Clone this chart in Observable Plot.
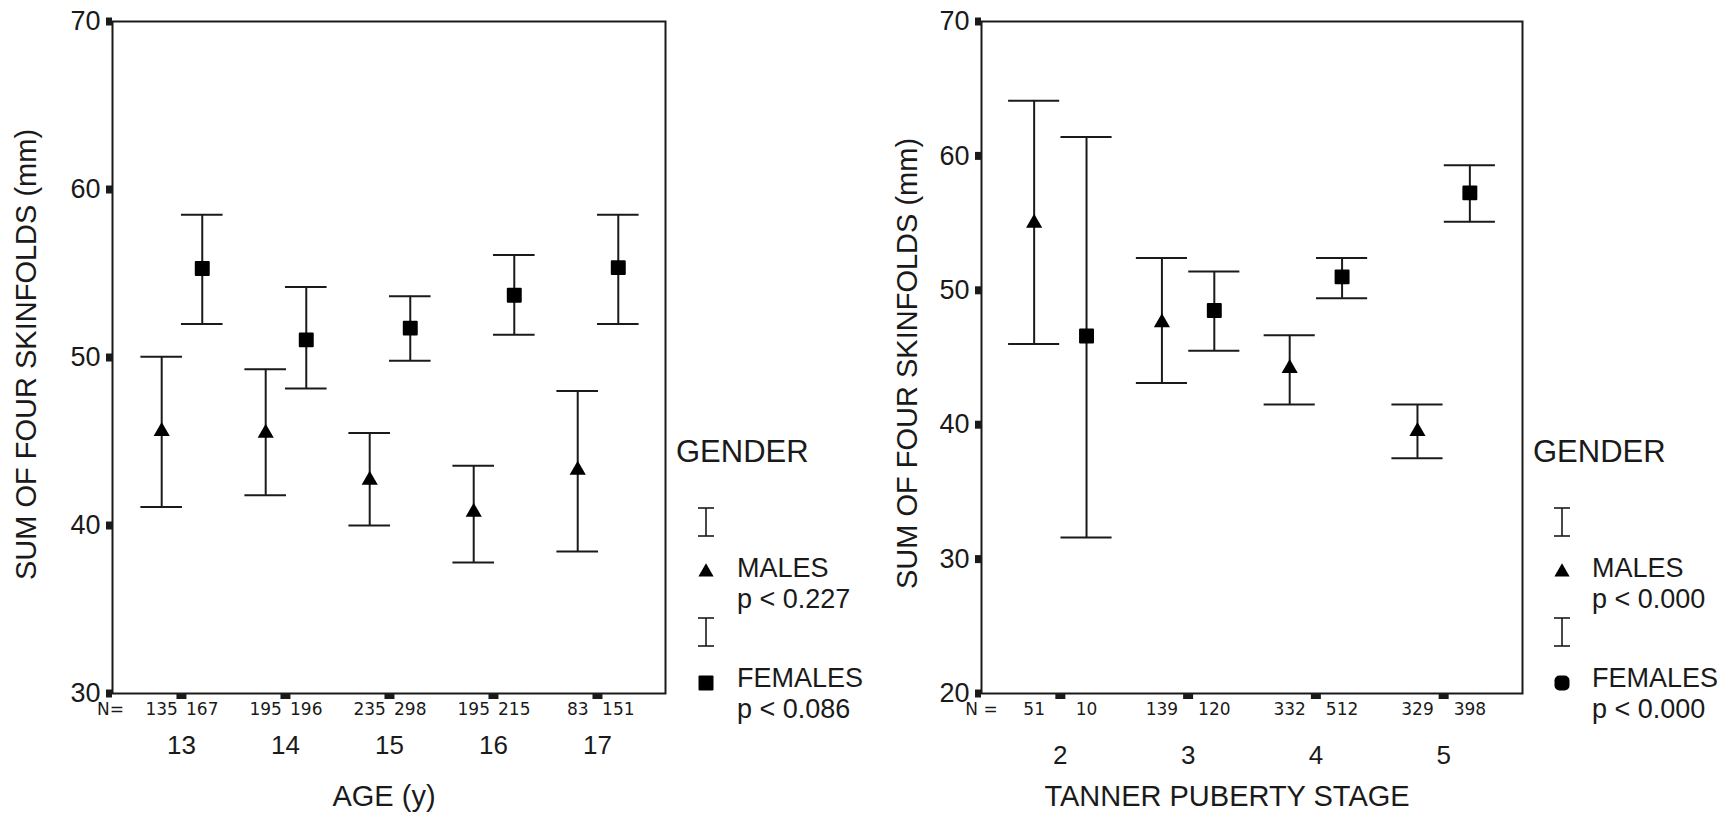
<!DOCTYPE html>
<html><head><meta charset="utf-8">
<script src="https://cdn.jsdelivr.net/npm/d3@7"></script>
<script src="https://cdn.jsdelivr.net/npm/@observablehq/plot@0.6"></script>
<style>
html,body{margin:0;padding:0;background:#fff;}
#root{position:relative;width:1732px;height:821px;overflow:hidden;font-family:"Liberation Sans",Arial,sans-serif;}
</style></head><body><div id="root"></div>
<script>
// ---------- Panel A: by age ----------
const ageCats = [13, 14, 15, 16, 17];
const ageMaleMean = [45.6, 45.5, 42.7, 40.8, 43.3];
const ageMaleLo   = [41.1, 41.8, 40.0, 37.8, 38.45];
const ageMaleHi   = [50.05, 49.3, 45.5, 43.55, 48.0];
const ageMaleN    = [135, 195, 235, 195, 83];
const ageFemMean  = [55.3, 51.05, 51.75, 53.7, 55.35];
const ageFemLo    = [52.0, 48.15, 49.8, 51.35, 52.0];
const ageFemHi    = [58.5, 54.2, 53.65, 56.1, 58.5];
const ageFemN     = [167, 196, 298, 215, 151];
const ageYTicks   = [30, 40, 50, 60, 70];
const agePValues  = ["p < 0.227", "p < 0.086"];

// ---------- Panel B: by Tanner stage ----------
const tanCats = [2, 3, 4, 5];
const tanMaleMean = [55.0, 47.6, 44.2, 39.5];
const tanMaleLo   = [46.0, 43.1, 41.5, 37.5];
const tanMaleHi   = [64.1, 52.4, 46.65, 41.5];
const tanMaleN    = [51, 139, 332, 329];
const tanFemMean  = [46.6, 48.5, 51.0, 57.25];
const tanFemLo    = [31.6, 45.5, 49.4, 55.1];
const tanFemHi    = [61.4, 51.4, 52.4, 59.3];
const tanFemN     = [10, 120, 512, 398];
const tanYTicks   = [20, 30, 40, 50, 60, 70];
const tanPValues  = ["p < 0.000", "p < 0.000"];

const yTitle = "SUM OF FOUR SKINFOLDS (mm)";
const legendTitle = "GENDER";
const legendLabels = ["MALES", "FEMALES"];

const FONT = "Liberation Sans, Arial, Helvetica, sans-serif";
const INK = "#1a1a1a";

function rows(cats, mean, lo, hi, n, off, sex) {
  return cats.map((c, i) => ({cat: c, pos: c + off, mean: mean[i], lo: lo[i], hi: hi[i], n: n[i], sex}));
}

function panel(cfg) {
  const all = cfg.males.concat(cfg.females);
  return Plot.plot({
    width: 680, height: 821,
    marginTop: 21, marginBottom: 128, marginLeft: cfg.marginLeft, marginRight: cfg.marginRight,
    style: {fontFamily: FONT, color: INK, background: "transparent", overflow: "visible"},
    x: {domain: cfg.xDomain},
    y: {domain: cfg.yDomain},
    marks: [
      Plot.ruleX(all, {x: "pos", y1: "lo", y2: "hi", stroke: INK, strokeWidth: 2}),
      Plot.ruleY(all, {y: "hi", x1: d => d.pos - cfg.capHalf, x2: d => d.pos + cfg.capHalf, stroke: INK, strokeWidth: 2}),
      Plot.ruleY(all, {y: "lo", x1: d => d.pos - cfg.capHalf, x2: d => d.pos + cfg.capHalf, stroke: INK, strokeWidth: 2}),
      Plot.dot(cfg.males, {x: "pos", y: "mean", symbol: "triangle", r: 6, fill: "#000", stroke: "none"}),
      Plot.dot(cfg.females, {x: "pos", y: "mean", symbol: "square", r: 7.3, fill: "#000", stroke: "#000", strokeWidth: 2, strokeLinejoin: "round"}),
      Plot.frame({stroke: INK, strokeWidth: 2}),
      Plot.axisY({ticks: cfg.yTicks, tickSize: 6, strokeWidth: 8, tickPadding: 6, fontSize: 27, label: null, tickFormat: d => String(d)}),
      Plot.axisX({ticks: cfg.cats, tickSize: 6, strokeWidth: 10, tickPadding: cfg.tickPad, fontSize: 26, label: null, tickFormat: d => String(d)}),
      Plot.text(all, {x: "pos", text: d => String(d.n), frameAnchor: "bottom", textAnchor: "middle", dy: 21, fontSize: 17, fontFamily: "DejaVu Sans", fill: INK}),
      Plot.text([cfg.nLabel], {text: d => d, frameAnchor: "bottom-left", textAnchor: "middle", dy: 21, dx: cfg.nDx, fontSize: 17, fontFamily: "DejaVu Sans", fill: INK}),
      Plot.text([cfg.xTitle], {text: d => d, frameAnchor: "bottom", textAnchor: "middle", dy: 112, dx: cfg.xTitleDx, fontSize: 29, fill: INK}),
      Plot.text([yTitle], {text: d => d, frameAnchor: "left", textAnchor: "middle", rotate: -90, dx: cfg.yTitleDx, dy: cfg.yTitleDy, fontSize: 29, fill: INK})
    ]
  });
}

const root = document.getElementById("root");

const p1 = panel({
  males: rows(ageCats, ageMaleMean, ageMaleLo, ageMaleHi, ageMaleN, -0.19, "M"),
  females: rows(ageCats, ageFemMean, ageFemLo, ageFemHi, ageFemN, 0.2, "F"),
  cats: ageCats, xDomain: [12.337, 17.654], yDomain: [30, 70], yTicks: ageYTicks,
  capHalf: 0.2, marginLeft: 112, marginRight: 15, tickPad: 36,
  nLabel: "N=", nDx: -2, xTitle: "AGE (y)", xTitleDx: -5, yTitleDx: -86, yTitleDy: -3
});
p1.style.position = "absolute"; p1.style.left = "0px"; p1.style.top = "0px";
root.appendChild(p1);

const p2 = panel({
  males: rows(tanCats, tanMaleMean, tanMaleLo, tanMaleHi, tanMaleN, -0.205, "M"),
  females: rows(tanCats, tanFemMean, tanFemLo, tanFemHi, tanFemN, 0.205, "F"),
  cats: tanCats, xDomain: [1.383, 5.617], yDomain: [20, 70], yTicks: tanYTicks,
  capHalf: 0.2, marginLeft: 121, marginRight: 18, tickPad: 46,
  nLabel: "N =", nDx: 0, xTitle: "TANNER PUBERTY STAGE", xTitleDx: -25, yTitleDx: -74, yTitleDy: 6
});
p2.style.position = "absolute"; p2.style.left = "860px"; p2.style.top = "0px";
root.appendChild(p2);

// ---------- Legends ----------
const legends = [
  {x0: 676, ix: 30, tx: 61, pvals: agePValues, round: 1},
  {x0: 1533, ix: 29, tx: 59, pvals: tanPValues, round: 5}
];
const ov = d3.select(root).append("svg")
  .attr("width", 1732).attr("height", 821)
  .style("position", "absolute").style("left", "0px").style("top", "0px")
  .attr("font-family", FONT).attr("fill", INK);
legends.forEach(L => {
  const g = ov.append("g").attr("transform", `translate(${L.x0},0)`);
  g.append("text").attr("x", 0).attr("y", 462).attr("font-size", 31).text(legendTitle);
  legendLabels.forEach((lab, i) => {
    const oy = 110 * i;
    const bar = g.append("g").attr("stroke", INK).attr("stroke-width", 1.6);
    bar.append("line").attr("x1", L.ix).attr("x2", L.ix).attr("y1", 508 + oy).attr("y2", 536 + oy);
    bar.append("line").attr("x1", L.ix - 8).attr("x2", L.ix + 8).attr("y1", 508 + oy).attr("y2", 508 + oy);
    bar.append("line").attr("x1", L.ix - 8).attr("x2", L.ix + 8).attr("y1", 536 + oy).attr("y2", 536 + oy);
    if (i === 0) {
      g.append("path").attr("d", d3.symbol(d3.symbolTriangle, 100)())
        .attr("transform", `translate(${L.ix},${572})`).attr("fill", "#000");
    } else {
      g.append("rect").attr("x", L.ix - 7.5).attr("y", 675.5).attr("width", 15).attr("height", 15)
        .attr("rx", L.round).attr("fill", "#000");
    }
    g.append("text").attr("x", L.tx).attr("y", 577 + oy).attr("font-size", 27).text(lab);
    g.append("text").attr("x", L.tx).attr("y", 608 + oy).attr("font-size", 27).text(L.pvals[i]);
  });
});
</script>
</body></html>
